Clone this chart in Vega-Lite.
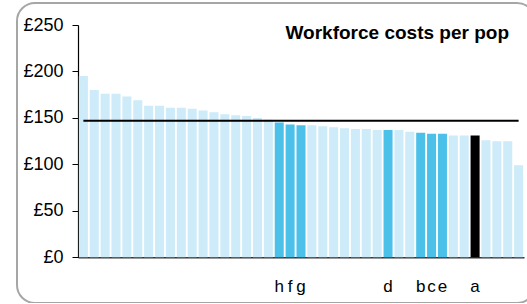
{
  "$schema": "https://vega.github.io/schema/vega-lite/v6.json",
  "width": 518,
  "height": 300,
  "autosize": {"type": "none"},
  "padding": {"left": 17, "top": 3, "right": 0, "bottom": 0},
  "background": "white",
  "config": {
    "font": "Liberation Sans",
    "view": {"stroke": "#a6a6a6", "strokeWidth": 2, "cornerRadius": 18, "fill": "white"}
  },
  "title": {
    "text": "Workforce costs per pop",
    "anchor": "end",
    "orient": "top",
    "frame": "group",
    "fontSize": 19,
    "fontWeight": "bold",
    "font": "Liberation Sans",
    "color": "#000000",
    "baseline": "middle",
    "offset": -49,
    "dx": -26
  },
  "data": {
    "values": [
      {"id": 1, "cost": 195, "kind": "other", "label": ""},
      {"id": 2, "cost": 180, "kind": "other", "label": ""},
      {"id": 3, "cost": 176, "kind": "other", "label": ""},
      {"id": 4, "cost": 176, "kind": "other", "label": ""},
      {"id": 5, "cost": 173, "kind": "other", "label": ""},
      {"id": 6, "cost": 169, "kind": "other", "label": ""},
      {"id": 7, "cost": 163, "kind": "other", "label": ""},
      {"id": 8, "cost": 163, "kind": "other", "label": ""},
      {"id": 9, "cost": 161, "kind": "other", "label": ""},
      {"id": 10, "cost": 161, "kind": "other", "label": ""},
      {"id": 11, "cost": 160, "kind": "other", "label": ""},
      {"id": 12, "cost": 158, "kind": "other", "label": ""},
      {"id": 13, "cost": 156, "kind": "other", "label": ""},
      {"id": 14, "cost": 154, "kind": "other", "label": ""},
      {"id": 15, "cost": 153, "kind": "other", "label": ""},
      {"id": 16, "cost": 152, "kind": "other", "label": ""},
      {"id": 17, "cost": 150, "kind": "other", "label": ""},
      {"id": 18, "cost": 148, "kind": "other", "label": ""},
      {"id": 19, "cost": 145, "kind": "highlight", "label": "h"},
      {"id": 20, "cost": 143, "kind": "highlight", "label": "f"},
      {"id": 21, "cost": 142, "kind": "highlight", "label": "g"},
      {"id": 22, "cost": 142, "kind": "other", "label": ""},
      {"id": 23, "cost": 141, "kind": "other", "label": ""},
      {"id": 24, "cost": 140, "kind": "other", "label": ""},
      {"id": 25, "cost": 139, "kind": "other", "label": ""},
      {"id": 26, "cost": 138, "kind": "other", "label": ""},
      {"id": 27, "cost": 138, "kind": "other", "label": ""},
      {"id": 28, "cost": 137, "kind": "other", "label": ""},
      {"id": 29, "cost": 137, "kind": "highlight", "label": "d"},
      {"id": 30, "cost": 137, "kind": "other", "label": ""},
      {"id": 31, "cost": 135, "kind": "other", "label": ""},
      {"id": 32, "cost": 134, "kind": "highlight", "label": "b"},
      {"id": 33, "cost": 133, "kind": "highlight", "label": "c"},
      {"id": 34, "cost": 133, "kind": "highlight", "label": "e"},
      {"id": 35, "cost": 131, "kind": "other", "label": ""},
      {"id": 36, "cost": 131, "kind": "other", "label": ""},
      {"id": 37, "cost": 131, "kind": "selected", "label": "a"},
      {"id": 38, "cost": 126, "kind": "other", "label": ""},
      {"id": 39, "cost": 125, "kind": "other", "label": ""},
      {"id": 40, "cost": 125, "kind": "other", "label": ""},
      {"id": 41, "cost": 99, "kind": "other", "label": ""}
    ]
  },
  "encoding": {
    "x": {
      "field": "id",
      "type": "ordinal",
      "sort": null,
      "scale": {"range": [61, 507], "paddingInner": 0.17, "paddingOuter": 0.08},
      "axis": {
        "orient": "bottom",
        "offset": -45.7,
        "labels": false,
        "ticks": false,
        "title": null,
        "domain": true,
        "domainColor": "#333333",
        "domainWidth": 1.5
      }
    }
  },
  "layer": [
    {
      "mark": {"type": "bar"},
      "encoding": {
        "y": {
          "field": "cost",
          "type": "quantitative",
          "scale": {"domain": [0, 250], "range": [254.3, 22], "nice": false},
          "axis": {
            "orient": "left",
            "offset": -61,
            "values": [0, 50, 100, 150, 200, 250],
            "labelExpr": "'£' + datum.value",
            "grid": false,
            "title": null,
            "domainColor": "#000000",
            "domainWidth": 1.2,
            "tickColor": "#000000",
            "tickSize": 6,
            "tickWidth": 1,
            "labelPadding": 9,
            "labelFontSize": 18,
            "labelColor": "#000000",
            "labelFont": "Liberation Sans"
          }
        },
        "color": {
          "field": "kind",
          "type": "nominal",
          "scale": {"domain": ["other", "highlight", "selected"], "range": ["#cdebf8", "#4bc1ea", "#000000"]},
          "legend": null
        }
      }
    },
    {
      "mark": {"type": "line", "color": "#000000", "strokeWidth": 2},
      "encoding": {
        "y": {"datum": 147, "type": "quantitative"}
      }
    },
    {
      "transform": [{"filter": "datum.label != ''"}],
      "mark": {"type": "text", "baseline": "alphabetic", "dy": 35, "fontSize": 17, "font": "Liberation Sans", "color": "#000000"},
      "encoding": {
        "y": {"datum": 0, "type": "quantitative"},
        "text": {"field": "label"}
      }
    }
  ]
}
